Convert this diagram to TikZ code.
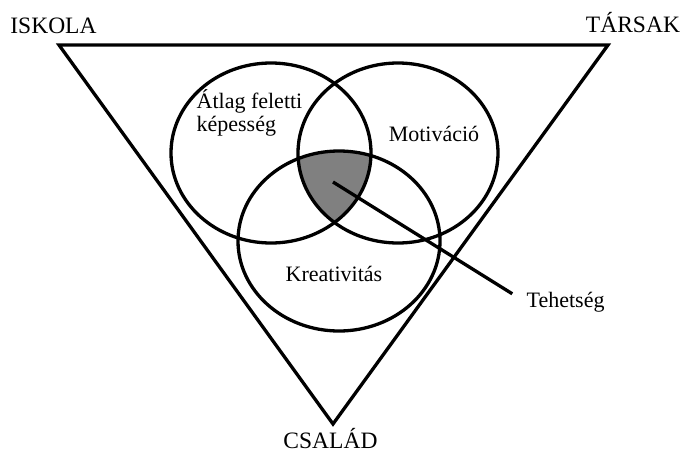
\documentclass[tikz,border=0pt]{standalone}
\usepackage{fontspec}
\setmainfont{Liberation Serif}

\begin{document}
\begin{tikzpicture}[x=1pt,y=-1pt,line width=3.3pt,
  sarok/.style={inner sep=0pt,anchor=base,font=\fontsize{23.5}{25}\selectfont},
  felirat/.style={inner sep=0pt,anchor=base,font=\fontsize{22}{23}\selectfont}]
\useasboundingbox (0,0) rectangle (681,453);

% haromszog
\coordinate (bal) at (59,45);
\coordinate (jobb) at (608,45);
\coordinate (lent) at (333,424);
\draw[line join=miter] (bal) -- (jobb) -- (lent) -- cycle;

% korok kozeppontjai
\coordinate (kep) at (271,153);
\coordinate (mot) at (398,153);
\coordinate (kre) at (339,241);

% kozos resz
\begin{scope}
\clip (kep) ellipse [x radius=100pt, y radius=90pt];
\clip (mot) ellipse [x radius=100pt, y radius=90pt];
\fill[gray] (kre) ellipse [x radius=101pt, y radius=90pt];
\end{scope}

\draw (kep) ellipse [x radius=100pt, y radius=90pt];
\draw (mot) ellipse [x radius=100pt, y radius=90pt];
\draw (kre) ellipse [x radius=101pt, y radius=90pt];

\node[sarok] (iskola) at (53.5,33) {ISKOLA};
\node[sarok] (tarsak) at (633,32) {TÁRSAK};
\node[sarok] (csalad) at (330.5,448.5) {CSALÁD};

\node[felirat,anchor=base west,align=left] (atlag) at (195,131) {Átlag feletti\\képesség};
\node[felirat] (motivacio) at (434,141) {Motiváció};
\node[felirat] (kreativitas) at (334,281) {Kreativitás};
\node[felirat,anchor=base west] (tehetseg) at (525,307) {Tehetség};

\coordinate (mag) at (333,182);
\draw[shorten >=15pt] (mag) -- (tehetseg.west);
\end{tikzpicture}
\end{document}
